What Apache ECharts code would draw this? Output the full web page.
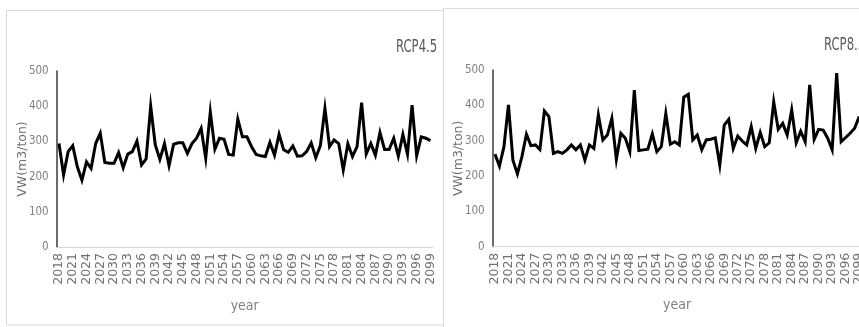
<!DOCTYPE html>
<html>
<head>
<meta charset="utf-8">
<script src="https://cdn.jsdelivr.net/npm/echarts@6/dist/echarts.min.js"></script>
<style>
html,body{margin:0;padding:0;background:#fff;overflow:hidden;}
#chart{width:859px;height:327px;}
</style>
</head>
<body>
<div id="chart"></div>
<script>
const years = [2018,2019,2020,2021,2022,2023,2024,2025,2026,2027,
  2028,2029,2030,2031,2032,2033,2034,2035,2036,2037,
  2038,2039,2040,2041,2042,2043,2044,2045,2046,2047,
  2048,2049,2050,2051,2052,2053,2054,2055,2056,2057,
  2058,2059,2060,2061,2062,2063,2064,2065,2066,2067,
  2068,2069,2070,2071,2072,2073,2074,2075,2076,2077,
  2078,2079,2080,2081,2082,2083,2084,2085,2086,2087,
  2088,2089,2090,2091,2092,2093,2094,2095,2096,2097,
  2098,2099];
const rcp45 = [294,205,271,288,228,190,242,223,294,323,
  240,238,238,268,225,264,271,301,233,250,
  400,290,249,294,231,292,296,296,266,294,
  309,337,252,384,278,309,306,263,261,363,
  313,313,285,263,259,257,297,261,320,276,
  269,287,258,259,271,296,254,288,394,285,
  304,294,219,293,257,285,410,264,294,261,
  325,277,277,309,258,320,264,403,259,313,
  309,302];
const rcp85 = [262,228,283,401,245,206,255,318,286,288,
  275,384,368,264,269,264,274,288,274,288,
  245,288,278,373,302,316,363,247,321,307,
  269,443,272,274,276,319,269,283,377,290,
  297,288,423,431,302,316,274,302,304,308,
  231,344,360,278,313,299,288,340,278,323,
  283,294,410,332,349,316,387,294,327,297,
  458,304,332,330,307,274,491,297,309,321,
  335,368];
const yTicks = [0,100,200,300,400,500];
const titles = ['RCP4.5','RCP8.5'];
const yName = 'VW(m3/ton)';
const xName = 'year';

const narrow = '"Liberation Sans Narrow", "DejaVu Sans Condensed", "Arial Narrow", sans-serif';
const wide = '"DejaVu Sans", "Liberation Sans", sans-serif';

function xAxisCfg(gi){
  return {
    type:'category', gridIndex:gi, data:years.map(String), boundaryGap:true,
    axisLine:{show:true, lineStyle:{color:'#d4d4d4', width:1}},
    axisTick:{show:false},
    axisLabel:{interval:2, rotate:90, color:'#707070', fontFamily:wide, fontSize:12.5, margin:6},
    name:xName, nameLocation:'middle', nameGap:52,
    nameTextStyle:{color:'#808080', fontFamily:narrow, fontSize:14}
  };
}
function yAxisCfg(gi){
  return {
    type:'value', gridIndex:gi, min:yTicks[0], max:yTicks[yTicks.length-1], interval:100,
    axisLine:{show:true, lineStyle:{color:'#3a3a3a', width:1.5}},
    axisTick:{show:false},
    splitLine:{show:false},
    axisLabel:{color:'#808080', fontFamily:narrow, fontSize:11.5, margin:8},
    name:yName, nameLocation:'middle', nameGap:27, nameRotate:90, nameMoveOverlap:false,
    nameTextStyle:{color:'#707070', fontFamily:wide, fontSize:12.5}
  };
}
function seriesCfg(gi, data){
  return {
    type:'line', xAxisIndex:gi, yAxisIndex:gi, data:data,
    showSymbol:false, symbol:'none', smooth:false,
    lineStyle:{color:'#000', width:3, join:'miter'},
    silent:true
  };
}
function titleText(txt, x, y){
  return {type:'text', x:x, y:y, scaleX:0.72, z:5,
    style:{text:txt, font:'18px ' + narrow, fill:'#595959', textVerticalAlign:'top'}};
}

const chart = echarts.init(document.getElementById('chart'), null, {renderer:'canvas'});
chart.setOption({
  animation:false,
  backgroundColor:'#fff',
  graphic:[
    {type:'rect', z:-10, z2:1, shape:{x:6.5, y:10.5, width:470, height:314.5},
      style:{fill:'#fff', stroke:'#d9d9d9', lineWidth:1}},
    titleText(titles[0], 396, 38),
    {type:'rect', z:-10, z2:2, shape:{x:443.5, y:8.5, width:440, height:340},
      style:{fill:'#fff', stroke:'#d9d9d9', lineWidth:1}},
    titleText(titles[1], 824, 36)
  ],
  grid:[
    {left:56.7, top:71, width:376, height:176, containLabel:false, outerBoundsMode:'none'},
    {left:492.7, top:70, width:368.7, height:176.7, containLabel:false, outerBoundsMode:'none'}
  ],
  xAxis:[xAxisCfg(0), xAxisCfg(1)],
  yAxis:[yAxisCfg(0), yAxisCfg(1)],
  series:[seriesCfg(0, rcp45), seriesCfg(1, rcp85)]
});
</script>
</body>
</html>
